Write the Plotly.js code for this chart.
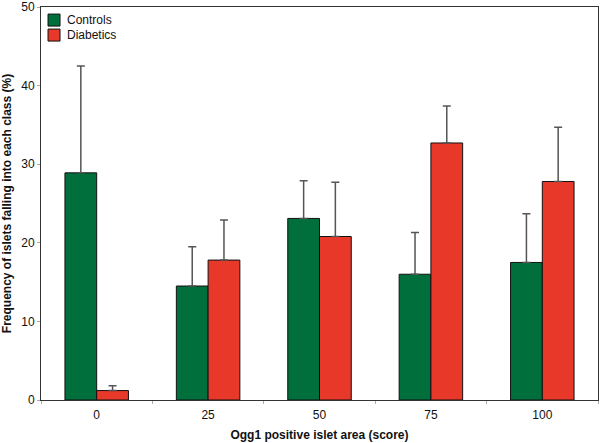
<!DOCTYPE html>
<html>
<head>
<meta charset="utf-8">
<script src="https://cdn.plot.ly/plotly-3.0.1.min.js"></script>
<style>html,body{margin:0;padding:0;background:#fff;}#chart{width:600px;height:443px;}</style>
</head>
<body>
<div id="chart"></div>
<script>
const categories = ["0", "25", "50", "75", "100"];
const controls = [28.9, 14.5, 23.1, 16.0, 17.5];
const controlsErr = [13.6, 5.0, 4.8, 5.3, 6.2];
const diabetics = [1.2, 17.8, 20.8, 32.7, 27.8];
const diabeticsErr = [0.6, 5.1, 6.9, 4.7, 6.9];
const seriesNames = ["Controls", "Diabetics"];
const seriesColors = ["#006f3c", "#e8382a"];

const errStyle = {type: "data", symmetric: false, color: "#555555", thickness: 1.5, width: 4};

const traces = [
  {
    type: "bar", name: seriesNames[0], x: categories, y: controls,
    marker: {color: seriesColors[0], line: {color: "#111111", width: 1}},
    error_y: Object.assign({array: controlsErr, arrayminus: controls.map(() => 0)}, errStyle)
  },
  {
    type: "bar", name: seriesNames[1], x: categories, y: diabetics,
    marker: {color: seriesColors[1], line: {color: "#111111", width: 1}},
    error_y: Object.assign({array: diabeticsErr, arrayminus: diabetics.map(() => 0)}, errStyle)
  }
];

// custom legend (square swatches, tight spacing)
const legX = 0.0126, legY0 = 0.982, legStep = 15;
const shapes = [], annotations = [];
seriesNames.forEach((n, i) => {
  shapes.push({
    type: "rect", xref: "paper", yref: "paper",
    xsizemode: "pixel", ysizemode: "pixel", xanchor: legX, yanchor: legY0,
    x0: 0, x1: 12, y0: -i * legStep, y1: -i * legStep - 12,
    fillcolor: seriesColors[i], line: {color: "#111111", width: 1}
  });
  annotations.push({
    xref: "paper", yref: "paper", x: legX, y: legY0, xanchor: "left", yanchor: "middle",
    xshift: 17, yshift: -i * legStep - 6, text: n, showarrow: false,
    font: {size: 12, color: "#111111"}
  });
});

const layout = {
  width: 600, height: 443,
  margin: {l: 41, r: 2, t: 7, b: 43},
  paper_bgcolor: "#ffffff", plot_bgcolor: "#ffffff",
  font: {family: "Liberation Sans, Arial, sans-serif", size: 12, color: "#111111"},
  barmode: "group", bargap: 0.43, bargroupgap: 0,
  showlegend: false,
  shapes: shapes, annotations: annotations,
  xaxis: {
    type: "category", range: [-0.5, 4.5], tickson: "boundaries",
    showline: true, linecolor: "#333333", linewidth: 1, mirror: true,
    ticks: "outside", ticklen: 3, tickcolor: "#aaaaaa", ticklabelstandoff: 4,
    showgrid: false, zeroline: false,
    tickfont: {size: 12},
    title: {text: "<b>Ogg1 positive islet area (score)</b>", font: {size: 12}, standoff: 9}
  },
  yaxis: {
    range: [0, 50], tickvals: [0, 10, 20, 30, 40, 50],
    showline: true, linecolor: "#333333", linewidth: 1, mirror: true,
    ticks: "outside", ticklen: 3, tickcolor: "#aaaaaa",
    showgrid: false, zeroline: false,
    tickfont: {size: 12},
    title: {text: "<b>Frequency of islets falling into each class (%)</b>", font: {size: 12}, standoff: 9}
  }
};

Plotly.newPlot("chart", traces, layout, {displayModeBar: false, staticPlot: true});
</script>
</body>
</html>
